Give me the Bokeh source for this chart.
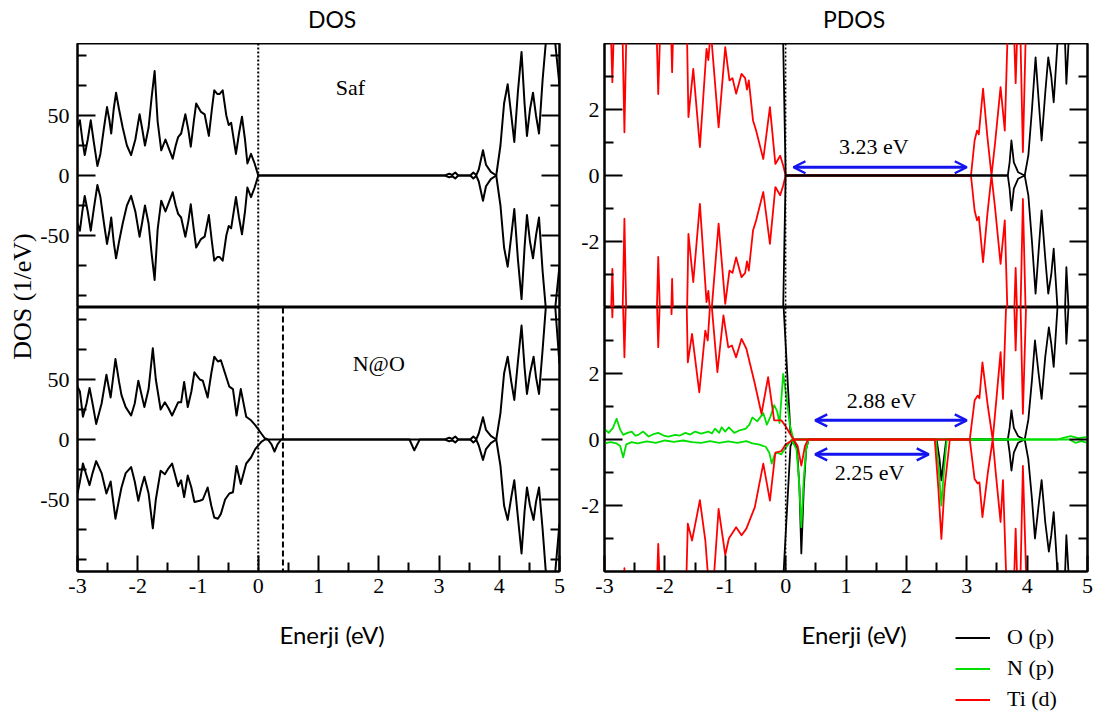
import math
from bokeh.plotting import figure
from bokeh.layouts import row, column
from bokeh.models import (Range1d, FixedTicker, LinearAxis, Span, Label, Arrow,
                          OpenHead, Legend, LegendItem, CustomLabelingPolicy)
from bokeh.embed import file_html
from bokeh.resources import INLINE

# ---------------------------------------------------------------- data
# Total DOS, pristine (Saf) TiO2, spin up; spin down is its mirror image
saf_total_up = [(-3.00, 40), (-2.96, 46), (-2.92, 30), (-2.88, 17), (-2.83, 30), (-2.78, 46),
                (-2.73, 28), (-2.67, 8), (-2.62, 18), (-2.56, 40), (-2.51, 57), (-2.47, 46),
                (-2.44, 35), (-2.40, 55), (-2.36, 69), (-2.31, 55), (-2.25, 40), (-2.18, 25),
                (-2.11, 17), (-2.04, 30), (-1.97, 51), (-1.93, 40), (-1.88, 25), (-1.82, 40),
                (-1.77, 65), (-1.72, 87), (-1.67, 45), (-1.61, 21), (-1.54, 30), (-1.48, 22),
                (-1.42, 14), (-1.37, 25), (-1.33, 32), (-1.28, 35), (-1.21, 51), (-1.16, 38),
                (-1.12, 24), (-1.07, 45), (-1.03, 60), (-0.95, 53), (-0.89, 51), (-0.82, 33),
                (-0.77, 55), (-0.73, 71), (-0.68, 68), (-0.64, 68), (-0.59, 71), (-0.53, 50),
                (-0.49, 42), (-0.45, 44), (-0.37, 18), (-0.32, 35), (-0.27, 49), (-0.22, 30),
                (-0.18, 10), (-0.12, 18), (-0.06, 10), (0.00, 0), (3.10, 0), (3.17, 1.5),
                (3.22, 0.5), (3.27, 2.5), (3.32, 0), (3.52, 0), (3.57, 2.5), (3.62, 0.3),
                (3.66, 5), (3.73, 21), (3.78, 9), (3.86, 3), (3.95, 0), (4.02, 25), (4.08, 60),
                (4.14, 76), (4.20, 50), (4.25, 28), (4.31, 70), (4.37, 103), (4.42, 60),
                (4.46, 33), (4.51, 55), (4.56, 69), (4.61, 50), (4.66, 35), (4.72, 80),
                (4.78, 115), (4.85, 140), (4.92, 115), (5.00, 75)]
saf_total_dn = [(e, -d) for e, d in saf_total_up]

# Total DOS, N substituted at O site (N@O)
no_total_up = [(-3.00, 44), (-2.96, 40), (-2.91, 19), (-2.85, 30), (-2.80, 43), (-2.75, 30),
               (-2.69, 13), (-2.60, 30), (-2.52, 54), (-2.45, 35), (-2.37, 67), (-2.31, 48),
               (-2.27, 37), (-2.20, 27), (-2.11, 20), (-2.05, 30), (-1.99, 49), (-1.94, 38),
               (-1.89, 27), (-1.82, 42), (-1.75, 76), (-1.70, 50), (-1.62, 25), (-1.55, 31),
               (-1.49, 26), (-1.43, 20), (-1.33, 31), (-1.28, 31), (-1.23, 48), (-1.17, 27),
               (-1.11, 40), (-1.06, 56), (-0.97, 50), (-0.92, 49), (-0.84, 35), (-0.78, 55),
               (-0.73, 69), (-0.67, 65), (-0.62, 66), (-0.55, 55), (-0.48, 44), (-0.42, 42),
               (-0.36, 20), (-0.29, 42), (-0.20, 19), (-0.12, 16), (-0.05, 12), (0.05, 5),
               (0.11, 1), (0.16, 0), (3.10, 0), (3.17, 1.5), (3.22, 0.5), (3.27, 2.5),
               (3.32, 0), (3.52, 0), (3.57, 2.5), (3.62, 0.3), (3.66, 5), (3.73, 18.6),
               (3.78, 8), (3.86, 3), (3.95, 0), (4.02, 22), (4.08, 55), (4.14, 69), (4.20, 48),
               (4.25, 33), (4.31, 65), (4.37, 95), (4.42, 60), (4.46, 38), (4.51, 55),
               (4.57, 69), (4.61, 52), (4.66, 38), (4.72, 75), (4.78, 115), (4.85, 135),
               (4.93, 110), (5.00, 63)]
no_total_dn = [(-3.00, -45), (-2.96, -35), (-2.91, -20), (-2.85, -30), (-2.80, -38), (-2.75, -28),
               (-2.69, -18), (-2.60, -28), (-2.52, -45), (-2.45, -35), (-2.37, -66), (-2.31, -50),
               (-2.27, -40), (-2.20, -28), (-2.11, -23), (-2.05, -35), (-1.99, -51), (-1.94, -40),
               (-1.89, -31), (-1.82, -45), (-1.75, -74), (-1.70, -50), (-1.62, -26), (-1.55, -29),
               (-1.49, -24), (-1.43, -20), (-1.33, -39), (-1.28, -34), (-1.23, -48), (-1.17, -30),
               (-1.11, -40), (-1.06, -52), (-0.97, -51), (-0.92, -50), (-0.84, -40), (-0.78, -55),
               (-0.73, -65), (-0.67, -66), (-0.62, -62), (-0.55, -50), (-0.48, -45), (-0.42, -44),
               (-0.36, -22), (-0.29, -37), (-0.20, -20), (-0.12, -15), (-0.05, -8), (0.05, -2),
               (0.11, 0), (0.16, 0), (0.22, -4), (0.27, -10), (0.32, -4), (0.38, 0), (2.51, 0),
               (2.59, -9), (2.68, 0), (3.10, 0), (3.17, -1.5), (3.22, -0.5), (3.27, -2.5),
               (3.32, 0), (3.52, 0), (3.57, -2.5), (3.62, -0.3), (3.66, -5), (3.73, -17),
               (3.78, -8), (3.86, -3), (3.95, 0), (4.02, -22), (4.08, -55), (4.14, -67),
               (4.20, -48), (4.25, -34), (4.31, -65), (4.37, -95), (4.42, -60), (4.46, -40),
               (4.51, -55), (4.57, -67), (4.61, -52), (4.66, -40), (4.72, -75), (4.78, -115),
               (4.85, -135), (4.93, -110), (5.00, -70)]

# Projected DOS, pristine: Ti(d) and O(p), spin up (spin down mirrored)
saf_ti_up = [(-3.00, 6), (-2.92, 6), (-2.87, 2.83), (-2.82, 6), (-2.72, 6), (-2.67, 1.31),
             (-2.62, 6), (-2.16, 6), (-2.11, 2.47), (-2.05, 6), (-1.92, 6), (-1.88, 3.13),
             (-1.84, 6), (-1.65, 6), (-1.61, 1.77), (-1.53, 3.23), (-1.42, 0.86), (-1.31, 3.84),
             (-1.28, 3.5), (-1.24, 4.4), (-1.11, 1.46), (-1.00, 3.89), (-0.93, 2.88),
             (-0.88, 2.95), (-0.82, 2.48), (-0.73, 3.08), (-0.67, 2.95), (-0.64, 2.6),
             (-0.61, 2.88), (-0.54, 1.67), (-0.49, 1.37), (-0.37, 0.5), (-0.26, 2.07),
             (-0.17, 0.35), (-0.09, 0.6), (-0.04, 0.3), (0.00, 0), (3.07, 0), (3.13, 1.06),
             (3.17, 1.36), (3.20, 1.25), (3.27, 2.63), (3.34, 1.2), (3.41, 0), (3.47, 1.0),
             (3.56, 2.68), (3.63, 1.36), (3.68, 4.5), (3.74, 6), (3.78, 4.5), (3.81, 2.8),
             (3.84, 4.5), (3.88, 5), (3.93, 0.71), (3.98, 4.5), (4.10, 8), (5.00, 8)]
saf_ti_dn = [(e, -d) for e, d in saf_ti_up]
saf_o_up = [(-3.00, 20), (-0.20, 20), (0.00, 0), (3.68, 0), (3.71, 0.4), (3.74, 1.06),
            (3.78, 0.4), (3.85, 0.1), (3.96, 0), (4.02, 0.6), (4.08, 2.0), (4.14, 3.58),
            (4.19, 2.3), (4.24, 1.06), (4.30, 2.5), (4.35, 3.58), (4.40, 3.0), (4.44, 2.22),
            (4.52, 4.5), (4.58, 5.5), (4.62, 4.5), (4.65, 2.78), (4.70, 4.5), (4.80, 8),
            (5.00, 8)]
saf_o_dn = [(e, -d) for e, d in saf_o_up]

# Projected DOS, N@O: Ti(d), O(p), N(p)
no_ti_up = [(-3.00, 6), (-2.91, 6), (-2.87, 3.7), (-2.83, 6), (-2.72, 6), (-2.67, 2.49),
            (-2.62, 6), (-2.16, 6), (-2.11, 2.8), (-2.05, 6), (-1.93, 6), (-1.89, 3.8),
            (-1.85, 6), (-1.66, 6), (-1.62, 2.34), (-1.55, 3.2), (-1.43, 1.43), (-1.33, 3.3),
            (-1.29, 3.0), (-1.24, 4.4), (-1.13, 2.04), (-1.03, 3.76), (-0.95, 2.79),
            (-0.89, 2.85), (-0.82, 2.49), (-0.73, 3.05), (-0.65, 2.75), (-0.51, 1.69),
            (-0.40, 0.78), (-0.29, 1.89), (-0.19, 0.58), (-0.07, 0.58), (0.00, 0.4),
            (0.13, 0), (3.05, 0), (3.13, 1.18), (3.18, 1.33), (3.21, 1.25), (3.26, 2.34),
            (3.35, 1.0), (3.43, 0), (3.48, 1.0), (3.56, 2.65), (3.60, 1.23), (3.66, 4.5),
            (3.72, 6), (3.78, 4.5), (3.81, 2.7), (3.84, 4.5), (3.88, 5), (3.93, 0.78),
            (3.99, 4.5), (4.10, 8), (5.00, 8)]
no_ti_dn = [(-3.00, -6), (-2.72, -6), (-2.67, -3.9), (-2.62, -6), (-2.16, -6), (-2.11, -3.16),
            (-2.05, -6), (-1.67, -6), (-1.62, -2.55), (-1.55, -3.06), (-1.42, -1.84),
            (-1.33, -3.06), (-1.27, -4.5), (-1.20, -4.5), (-1.11, -2.1), (-1.00, -3.5),
            (-0.94, -3.0), (-0.82, -2.66), (-0.73, -2.9), (-0.65, -2.7), (-0.51, -2.05),
            (-0.37, -0.73), (-0.26, -1.85), (-0.17, -0.4), (-0.07, -0.35), (0.00, -0.15),
            (0.13, 0), (0.20, -0.2), (0.26, -0.79), (0.32, -0.2), (0.37, 0), (2.47, 0),
            (2.53, -1.5), (2.58, -3.01), (2.63, -1.5), (2.72, 0), (3.05, 0), (3.13, -1.2),
            (3.18, -1.33), (3.21, -1.3), (3.26, -2.35), (3.35, -1.0), (3.43, 0), (3.48, -1.0),
            (3.56, -2.5), (3.60, -1.23), (3.66, -4.5), (3.72, -6), (3.78, -4.5), (3.81, -2.7),
            (3.84, -4.5), (3.88, -5), (3.93, -0.8), (3.99, -4.5), (4.10, -8), (5.00, -8)]
no_o_up = [(-3.00, 12), (-0.27, 12), (0.08, 0.2), (0.13, 0), (3.68, 0), (3.71, 0.35),
           (3.74, 0.88), (3.78, 0.35), (3.85, 0.1), (3.96, 0), (4.02, 0.6), (4.08, 1.8),
           (4.13, 3.0), (4.19, 2.0), (4.24, 1.23), (4.30, 2.5), (4.36, 3.4), (4.40, 2.9),
           (4.44, 2.2), (4.52, 4.5), (4.58, 5.5), (4.62, 4.5), (4.65, 2.9), (4.70, 4.5),
           (4.80, 8), (5.00, 8)]
no_o_dn = [(-3.00, -12), (-0.27, -12), (0.08, -0.2), (0.13, 0), (0.19, -0.3), (0.23, -1.5),
           (0.26, -3.45), (0.30, -1.5), (0.34, -0.3), (0.38, 0), (2.50, 0), (2.55, -0.6),
           (2.58, -1.24), (2.62, -0.6), (2.66, 0), (3.68, 0), (3.71, -0.4), (3.74, -0.94),
           (3.78, -0.4), (3.85, -0.1), (3.96, 0), (4.02, -0.6), (4.08, -1.8), (4.13, -3.0),
           (4.19, -2.0), (4.24, -1.23), (4.30, -2.5), (4.36, -3.4), (4.40, -2.9), (4.44, -2.2),
           (4.52, -4.5), (4.58, -5.5), (4.62, -4.5), (4.65, -2.9), (4.70, -4.5), (4.80, -8),
           (5.00, -8)]
no_n_up = [(-3.00, 0.32), (-2.93, 0.2), (-2.86, 0.35), (-2.80, 0.63), (-2.74, 0.3), (-2.69, 0.14),
           (-2.62, 0.2), (-2.55, 0.24), (-2.49, 0.12), (-2.44, 0.14), (-2.36, 0.24), (-2.27, 0.09),
           (-2.19, 0.16), (-2.11, 0.2), (-2.02, 0.12), (-1.94, 0.09), (-1.83, 0.14), (-1.75, 0.12),
           (-1.66, 0.2), (-1.58, 0.15), (-1.50, 0.24), (-1.40, 0.18), (-1.28, 0.24), (-1.22, 0.18),
           (-1.17, 0.33), (-1.10, 0.2), (-1.06, 0.37), (-1.00, 0.24), (-0.94, 0.37), (-0.85, 0.2),
           (-0.76, 0.28), (-0.66, 0.33), (-0.60, 0.45), (-0.55, 0.67), (-0.47, 0.55), (-0.37, 0.8),
           (-0.31, 0.45), (-0.25, 0.7), (-0.19, 1.04), (-0.14, 0.85), (-0.10, 0.5), (-0.04, 1.99),
           (0.02, 1.2), (0.07, 0.45), (0.13, 0), (4.50, 0), (4.60, 0.05), (4.72, 0.1),
           (4.85, 0.04), (5.00, 0.08)]
no_n_dn = [(-3.00, -0.12), (-2.90, -0.08), (-2.80, -0.12), (-2.74, -0.2), (-2.69, -0.54),
           (-2.64, -0.15), (-2.55, -0.08), (-2.45, -0.12), (-2.30, -0.06), (-2.15, -0.1),
           (-2.00, -0.03), (-1.85, -0.07), (-1.70, -0.03), (-1.55, -0.08), (-1.40, -0.1),
           (-1.25, -0.05), (-1.10, -0.1), (-0.95, -0.06), (-0.80, -0.1), (-0.65, -0.05),
           (-0.55, -0.12), (-0.45, -0.15), (-0.33, -0.22), (-0.27, -0.4), (-0.23, -0.73),
           (-0.18, -0.45), (-0.14, -0.4), (-0.07, -0.45), (0.02, -0.2), (0.10, 0), (0.18, -0.3),
           (0.22, -1.2), (0.26, -2.66), (0.30, -1.2), (0.34, -0.3), (0.38, 0), (2.49, 0),
           (2.54, -1.0), (2.58, -2.0), (2.62, -1.0), (2.67, 0), (4.70, 0), (4.80, -0.1),
           (4.90, -0.05), (5.00, -0.1)]

energy_ticks = [-3, -2, -1, 0, 1, 2, 3, 4, 5]
energy_minor = [-2.5, -1.5, -0.5, 0.5, 1.5, 2.5, 3.5, 4.5]
dos_ticks, dos_minor = [-50, 0, 50], [-100, -75, -25, 25, 75, 100]
pdos_ticks, pdos_minor = [-2, 0, 2], [-3, -1, 1, 3]
gap_labels = ["3.23 eV", "2.88 eV", "2.25 eV"]
legend_labels = ["O (p)", "N (p)", "Ti (d)"]

# ---------------------------------------------------------------- style
SERIF = "Liberation Serif"
SANS = "Lato"
RED, GREEN, BLUE = "#ff0000", "#00e000", "#1414f0"
FRAME_H = 264
LEFT_W, RIGHT_W = 529, 539          # column widths (px)
NO_LABELS = CustomLabelingPolicy(code="return new Set()")


def xy(pairs):
    return [p[0] for p in pairs], [p[1] for p in pairs]


def style_axis(ax, ticks, minor, labels, long_tick=18, short_tick=9, standoff=8):
    ax.ticker = FixedTicker(ticks=ticks, minor_ticks=minor)
    ax.axis_line_width = 2
    ax.axis_line_color = "black"
    ax.major_tick_line_width = 2
    ax.minor_tick_line_width = 2
    ax.major_tick_line_color = "black"
    ax.minor_tick_line_color = "black"
    ax.major_tick_in, ax.major_tick_out = long_tick, 0
    ax.minor_tick_in, ax.minor_tick_out = short_tick, 0
    if labels:
        # plain hyphen for negative numbers
        ax.major_label_overrides = {t: str(t) for t in ticks}
        ax.major_label_text_font = SERIF
        ax.major_label_text_font_size = "22px"
        ax.major_label_text_color = "black"
        ax.major_label_standoff = standoff
    else:
        ax.major_label_policy = NO_LABELS
        ax.major_label_text_font_size = "0px"
        ax.major_label_standoff = 0


def panel(ylim, ticks, minor, left, right, bottom, fw, with_x, ystand=8):
    p = figure(frame_width=fw, frame_height=FRAME_H,
               x_range=Range1d(-3, 5), y_range=Range1d(-ylim, ylim),
               x_axis_location="below" if with_x else None, y_axis_location="left",
               output_backend="svg", toolbar_location=None,
               min_border_left=left, min_border_right=right,
               min_border_top=0, min_border_bottom=bottom)
    p.xgrid.visible = False
    p.ygrid.visible = False
    p.outline_line_color = "black"
    p.outline_line_width = 2
    p.outline_line_alpha = 1
    style_axis(p.yaxis[0], ticks, minor, True, standoff=ystand)
    ra = LinearAxis()
    style_axis(ra, ticks, minor, False)
    p.add_layout(ra, "right")
    if with_x:
        style_axis(p.xaxis[0], energy_ticks, energy_minor, True,
                   long_tick=16, short_tick=9, standoff=7)
    return p


def strip(width, height):
    """Blank canvas (1 unit = 1 px, y downwards) for titles and keys."""
    s = figure(width=width, height=height, x_range=Range1d(0, width),
               y_range=Range1d(height, 0), x_axis_location=None, y_axis_location=None,
               toolbar_location=None, output_backend="svg", min_border=0,
               outline_line_color=None)
    s.xgrid.visible = False
    s.ygrid.visible = False
    return s


def curve(p, pairs, color, width=2.0):
    x, y = xy(pairs)
    return p.line(x, y, line_color=color, line_width=width, line_join="round")


def fermi(p, loc=0.0, dash="2 2", width=2):
    p.add_layout(Span(location=loc, dimension="height", line_color="black",
                      line_dash=dash, line_width=width))


def tag(p, x, y, text, size="22px", font=SERIF, angle=0.0):
    p.add_layout(Label(x=x, y=y, text=text, text_font=font, text_font_size=size,
                       text_align="center", text_baseline="middle", text_color="black",
                       angle=angle))


def gap_arrow(p, x0, x1, y):
    p.add_layout(Arrow(start=OpenHead(size=12, line_color=BLUE, line_width=2.5),
                       end=OpenHead(size=12, line_color=BLUE, line_width=2.5),
                       x_start=x0, y_start=y, x_end=x1, y_end=y,
                       line_color=BLUE, line_width=3))


# ---------------------------------------------------------------- total DOS (left)
head_l = strip(LEFT_W, 43)
tag(head_l, 280, 18, "DOS", size="23px", font=SANS)

dos_top = panel(110, dos_ticks, dos_minor, 39, 8, 0, 482, False)
curve(dos_top, saf_total_up, "black")
curve(dos_top, saf_total_dn, "black")
fermi(dos_top)
tag(dos_top, 1.53, 73, "Saf")

dos_bot = panel(110, dos_ticks, dos_minor, 39, 8, 37, 482, True)
curve(dos_bot, no_total_up, "black")
curve(dos_bot, no_total_dn, "black")
fermi(dos_bot)
fermi(dos_bot, 0.41, dash="6 3", width=2)
tag(dos_bot, 2.0, 63, "N@O")

foot_l = strip(LEFT_W, 107)
tag(foot_l, 280, 26, "Enerji (eV)", size="24px", font=SANS)

# ---------------------------------------------------------------- projected DOS (right)
head_r = strip(RIGHT_W, 43)
tag(head_r, 278.5, 18, "PDOS", size="23px", font=SANS)

pdos_top = panel(4, pdos_ticks, pdos_minor, 37, 19, 0, 483, False, ystand=5)
curve(pdos_top, saf_ti_up, RED, 1.8)
curve(pdos_top, saf_ti_dn, RED, 1.8)
curve(pdos_top, saf_o_up, "black", 1.8)
curve(pdos_top, saf_o_dn, "black", 1.8)
fermi(pdos_top, width=1.5)
gap_arrow(pdos_top, 0.13, 3.0, 0.25)
tag(pdos_top, 1.46, 0.88, gap_labels[0])

pdos_bot = panel(4, pdos_ticks, pdos_minor, 37, 19, 37, 483, True, ystand=5)
curve(pdos_bot, no_o_up, "black", 1.8)
curve(pdos_bot, no_o_dn, "black", 1.8)
curve(pdos_bot, no_n_up, GREEN, 1.8)
curve(pdos_bot, no_n_dn, GREEN, 1.8)
curve(pdos_bot, no_ti_up, RED, 1.8)
curve(pdos_bot, no_ti_dn, RED, 1.8)
fermi(pdos_bot, width=1.5)
gap_arrow(pdos_bot, 0.49, 3.0, 0.58)
gap_arrow(pdos_bot, 0.49, 2.37, -0.45)
tag(pdos_bot, 1.59, 1.18, gap_labels[1])
tag(pdos_bot, 1.39, -1.0, gap_labels[2])

foot_r = strip(RIGHT_W, 107)
tag(foot_r, 278.5, 26, "Enerji (eV)", size="24px", font=SANS)
key_colors = ["black", GREEN, RED]
key_items = []
for lab, col in zip(legend_labels, key_colors):
    # key swatch only: a single point far outside the strip, never visible
    r = foot_r.line(x=[-100], y=[-100], line_color=col, line_width=2)
    key_items.append(LegendItem(label=lab, renderers=[r]))
legend = Legend(items=key_items, location=(351, 3), orientation="vertical",
                glyph_width=35, glyph_height=25, label_height=25, spacing=5,
                label_standoff=17, padding=0, margin=0,
                label_text_font=SERIF, label_text_font_size="22px", label_text_color="black",
                border_line_alpha=0, background_fill_alpha=0)
foot_r.add_layout(legend, "center")

# ---------------------------------------------------------------- shared y-axis title
ylab = strip(37, 715)
tag(ylab, 22, 296, "DOS (1/eV)", size="26px", angle=math.pi / 2)

layout = row(ylab,
             column(head_l, dos_top, dos_bot, foot_l),
             column(head_r, pdos_top, pdos_bot, foot_r))

with open("out.html", "w") as f:
    f.write(file_html(layout, INLINE))
